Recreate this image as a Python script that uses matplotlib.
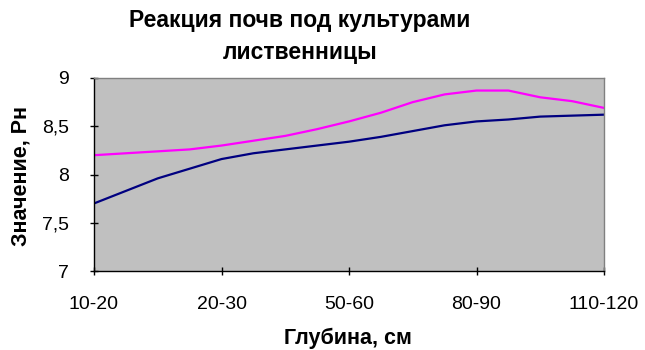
import numpy as np
import matplotlib.pyplot as plt

plt.rcParams['font.family'] = ['Liberation Sans', 'DejaVu Sans']

# 17 measurement points, labels every 4th one
depth_labels = ["10-20", "20-30", "50-60", "80-90", "110-120"]
label_step = 4
ph_magenta = [8.20, 8.22, 8.24, 8.26, 8.30, 8.35, 8.40, 8.47, 8.55,
              8.64, 8.75, 8.83, 8.87, 8.87, 8.80, 8.76, 8.69]
ph_navy = [7.70, 7.83, 7.96, 8.06, 8.16, 8.22, 8.26, 8.30, 8.34,
           8.39, 8.45, 8.51, 8.55, 8.57, 8.60, 8.61, 8.62]
y_ticks = [7, 7.5, 8, 8.5, 9]
y_labels = ["7", "7,5", "8", "8,5", "9"]

x = np.arange(len(ph_navy))

fig = plt.figure(figsize=[6.45, 3.5], dpi=100)
ax = fig.add_axes([94 / 645, 1 - 271 / 350, 510 / 645, 193 / 350])
ax.set_facecolor("#c0c0c0")

ax.plot(x, ph_navy, color="#000080", linewidth=1.6)
ax.plot(x, ph_magenta, color="#ff00ff", linewidth=1.6)

ax.set_xlim(0, len(x) - 1)
ax.set_ylim(7, 9)
ax.set_xticks(x[::label_step])
ax.set_xticklabels(depth_labels)
ax.set_yticks(y_ticks)
ax.set_yticklabels(y_labels)
ax.tick_params(axis="both", labelsize=14, length=6, direction="inout", width=1)
ax.tick_params(axis="x", pad=15)
ax.tick_params(axis="y", pad=15)

for side in ["top", "right"]:
    ax.spines[side].set_color("#808080")
    ax.spines[side].set_linewidth(1.0)
for side in ["left", "bottom"]:
    ax.spines[side].set_color("black")
    ax.spines[side].set_linewidth(1.0)

ax.set_xlabel("Глубина, см", fontsize=15.5, fontweight="bold")
ax.set_ylabel("Значение, Рн", fontsize=15.5, fontweight="bold")
ax.xaxis.set_label_coords(0.498, -0.295)
ax.yaxis.set_label_coords(-0.123, 0.49)

fig.text(0.465, 1 - 21 / 350, "Реакция почв под культурами", ha="center", va="center",
         fontsize=16.5, fontweight="bold")
fig.text(0.465, 1 - 53 / 350, "лиственницы", ha="center", va="center",
         fontsize=16.5, fontweight="bold")

fig.savefig("out.png", dpi=100)
